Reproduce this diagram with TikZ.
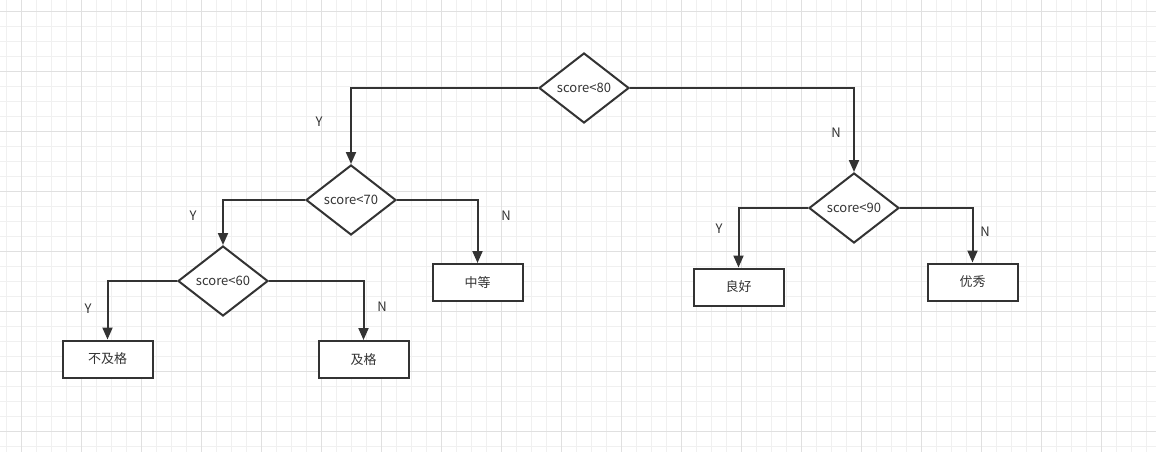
\documentclass[tikz,border=0pt]{standalone}
\usepackage{fontspec}
\setmainfont{Noto Sans CJK SC}
\usepackage{tikz}
\usetikzlibrary{arrows.meta,shapes.geometric}
\definecolor{FLine}{HTML}{333333}
\definecolor{FText}{HTML}{333333}
\definecolor{GMinor}{HTML}{F0F0F0}
\definecolor{GMajor}{HTML}{E0E0E0}

\begin{document}
\begin{tikzpicture}[x=1pt,y=-1pt,
  every node/.style={font=\fontsize{13}{15}\selectfont,text=FText},
  cond/.style={diamond,draw=FLine,line width=2pt,fill=white,aspect=1.3,
    inner sep=1pt,minimum width=90pt,minimum height=70pt},
  grade/.style={draw=FLine,line width=2pt,fill=white,
    minimum width=90pt,minimum height=37pt},
  lab/.style={inner sep=0pt},
  gminor/.style={draw=GMinor,line width=1pt},
  gmajor/.style={draw=GMajor,line width=1pt},
  arr/.style={-{Triangle[length=12pt,width=10pt]},line width=2pt,draw=FLine}
]
  % background grid
  \useasboundingbox[fill=white] (0,0) rectangle (1156,452);
  \foreach \k in {0,...,76}
    \draw[gminor] ({6.5+15*\k},0) -- ({6.5+15*\k},452);
  \foreach \k in {0,...,29}
    \draw[gminor] (0,{11.5+15*\k}) -- (1156,{11.5+15*\k});
  \foreach \k in {0,...,19}
    \draw[gmajor] ({21.5+60*\k},0) -- ({21.5+60*\k},452);
  \foreach \k in {0,...,7}
    \draw[gmajor] (0,{11.5+60*\k}) -- (1156,{11.5+60*\k});

  % conditions
  \node[cond] (d80) at (584,88) {score<80};
  \node[cond] (d70) at (351,200) {score<70};
  \node[cond] (d60) at (223,281) {score<60};
  \node[cond] (d90) at (854,208) {score<90};

  % grades
  \node[grade] (bujige) at (107.5,359) {不及格};
  \node[grade] (jige) at (363.5,359.5) {及格};
  \node[grade] (zhongdeng) at (477.5,282.5) {中等};
  \node[grade] (lianghao) at (738.5,287) {良好};
  \node[grade] (youxiu) at (972.5,282) {优秀};

  % branches
  \draw[arr] (d80.west) -| (d70.north);
  \draw[arr] (d80.east) -| (d90.north);
  \draw[arr] (d70.west) -| (d60.north);
  \draw[arr] (d70.east) -| (zhongdeng.north);
  \draw[arr] (d60.west) -| (bujige.north);
  \draw[arr] (d60.east) -| (jige.north);
  \draw[arr] (d90.west) -| (lianghao.north);
  \draw[arr] (d90.east) -| (youxiu.north);

  % branch labels
  \node[lab] (y80) at (319,122) {Y};
  \node[lab] (n80) at (836,133) {N};
  \node[lab] (y70) at (193,216) {Y};
  \node[lab] (n70) at (506,216) {N};
  \node[lab] (y60) at (88,309) {Y};
  \node[lab] (n60) at (382,307) {N};
  \node[lab] (y90) at (719,229) {Y};
  \node[lab] (n90) at (985,232) {N};
\end{tikzpicture}
\end{document}
